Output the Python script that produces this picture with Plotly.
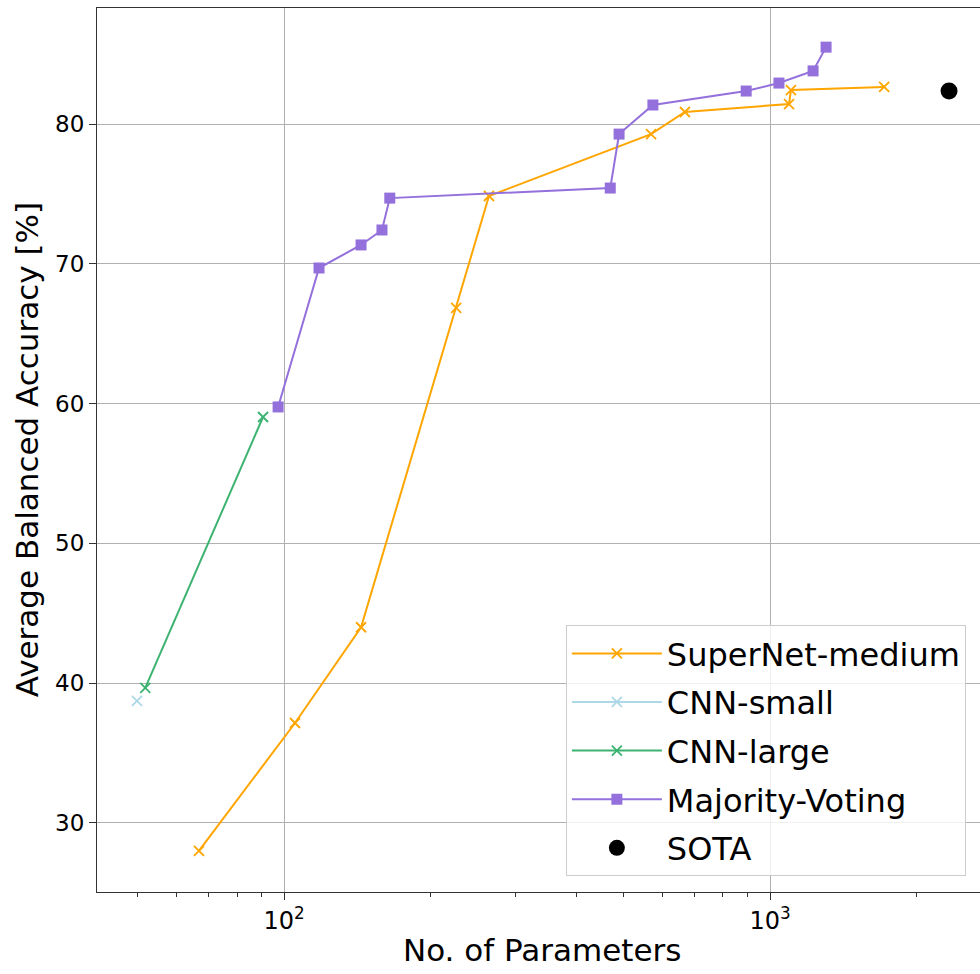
import plotly.graph_objects as go

supernet_x = [66.8, 105.3, 144, 226, 264, 569, 668, 1094, 1104, 1717]
supernet_y = [28.0, 37.15, 44.0, 66.84, 74.85, 79.28, 80.86, 81.43, 82.43, 82.65]

cnn_small_x = [49.8]
cnn_small_y = [38.73]

cnn_large_x = [51.8, 90.5]
cnn_large_y = [39.66, 59.04]

mv_x = [97.2, 118, 144, 159, 165, 469, 489, 574, 893, 1043, 1226, 1304]
mv_y = [59.76, 69.7, 71.35, 72.42, 74.7, 75.42, 79.28, 81.36, 82.36, 82.93, 83.8, 85.5]

sota_x = [2335]
sota_y = [82.36]

y_ticks = [30, 40, 50, 60, 70, 80]
x_ticks = [100, 1000]
x_ticktext = ["10<sup>2</sup>", "10<sup>3</sup>"]
minor_x = [50, 60, 70, 80, 90, 200, 300, 400, 500, 600, 700, 800, 900, 2000]

FONT = "DejaVu Sans"

fig = go.Figure()
fig.add_trace(go.Scatter(x=supernet_x, y=supernet_y, mode="lines+markers", name="SuperNet-medium",
                         legendgroup="a",
                         line=dict(color="#FFA500", width=2),
                         marker=dict(symbol="x-thin", size=10, line=dict(color="#FFA500", width=1.8))))
fig.add_trace(go.Scatter(x=cnn_small_x, y=cnn_small_y, mode="lines+markers", name="CNN-small",
                         legendgroup="b",
                         line=dict(color="#ADD8E6", width=2),
                         marker=dict(symbol="x-thin", size=10, line=dict(color="#ADD8E6", width=1.8))))
fig.add_trace(go.Scatter(x=cnn_large_x, y=cnn_large_y, mode="lines+markers", name="CNN-large",
                         legendgroup="c",
                         line=dict(color="#3CB371", width=2),
                         marker=dict(symbol="x-thin", size=10, line=dict(color="#3CB371", width=1.8))))
fig.add_trace(go.Scatter(x=mv_x, y=mv_y, mode="lines+markers", name="Majority-Voting",
                         legendgroup="d",
                         line=dict(color="#9370DB", width=2),
                         marker=dict(symbol="square", size=11, color="#9370DB")))
fig.add_trace(go.Scatter(x=sota_x, y=sota_y, mode="markers", name="SOTA",
                         legendgroup="e",
                         marker=dict(symbol="circle", size=17, color="black")))

fig.update_layout(
    width=980, height=974,
    margin=dict(l=97, r=0, t=8, b=82, autoexpand=False),
    plot_bgcolor="white", paper_bgcolor="white",
    font=dict(family=FONT, color="black"),
    showlegend=True,
    legend=dict(x=0.531, y=0.018, xanchor="left", yanchor="bottom",
                bgcolor="rgba(255,255,255,0.8)", bordercolor="#cccccc", borderwidth=1,
                font=dict(size=32, family=FONT), itemwidth=90, tracegroupgap=4,
                traceorder="grouped"),
    annotations=[
        dict(text="No. of Parameters", xref="paper", yref="paper", x=0.505, y=-0.066,
             xanchor="center", yanchor="middle", showarrow=False,
             font=dict(size=31, family=FONT, color="black")),
        dict(text="Average Balanced Accuracy [%]", xref="paper", yref="paper", x=-0.079, y=0.5,
             xanchor="center", yanchor="middle", showarrow=False, textangle=-90,
             font=dict(size=31, family=FONT, color="black")),
    ],
)
fig.update_xaxes(
    type="log", range=[1.615, 3.432], automargin=False,
    tickmode="array", tickvals=x_ticks, ticktext=x_ticktext,
    tickfont=dict(size=24, family=FONT),
    ticks="outside", ticklen=7, tickwidth=1.2, tickcolor="#333333",
    showgrid=True, gridcolor="#b0b0b0", gridwidth=1,
    showline=True, linecolor="#333333", linewidth=1.2, mirror=True,
    minor=dict(tickvals=minor_x, ticks="outside", ticklen=4, tickwidth=1, tickcolor="#333333", showgrid=False),
    zeroline=False,
)
fig.update_yaxes(
    range=[25.06, 88.3], automargin=False,
    tickmode="array", tickvals=y_ticks,
    tickfont=dict(size=23, family=FONT),
    ticks="outside", ticklen=7, tickwidth=1.2, tickcolor="#333333",
    showgrid=True, gridcolor="#b0b0b0", gridwidth=1,
    showline=True, linecolor="#333333", linewidth=1.2,
    zeroline=False,
)

fig.write_html("out.html", config={"displayModeBar": False},
               post_script="document.body.style.margin='0';document.body.style.padding='0';")
